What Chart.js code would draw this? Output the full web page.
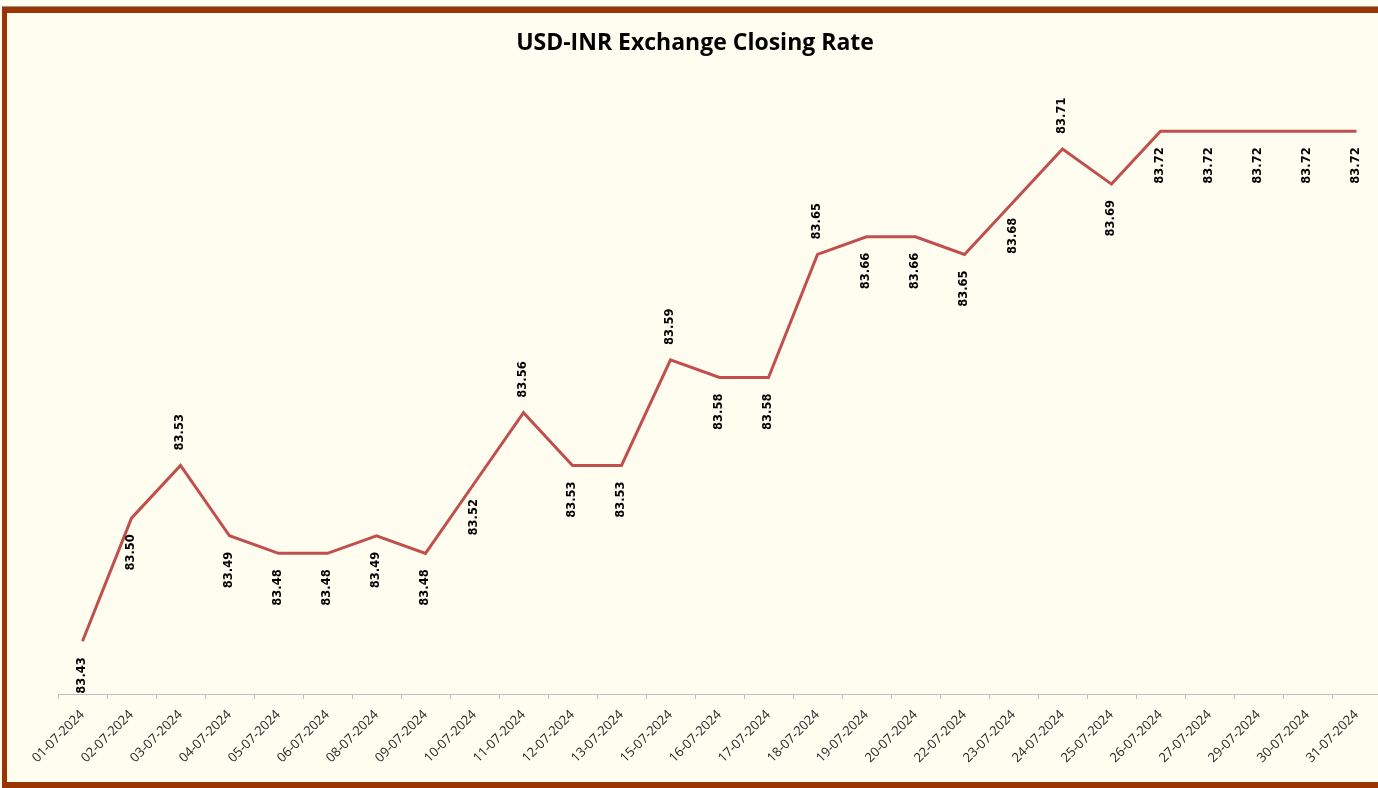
<!DOCTYPE html>
<html>
<head>
<meta charset="utf-8">
<script src="https://cdn.jsdelivr.net/npm/chart.js@4.4.1/dist/chart.umd.min.js"></script>
<style>
  html, body { margin: 0; padding: 0; background: #FFFCF0; overflow: hidden; width: 1378px; height: 788px; }
  #wrap { position: absolute; left: 0; top: 0; width: 1390px; height: 788px; }
  #topline { position: absolute; left: 2px; top: 6px; width: 1400px; height: 1px; background: #9a9a9a; }
  #frame { position: absolute; left: 2px; top: 7px; width: 1400px; height: 781px; box-sizing: border-box;
           border-top: 6px solid #9A3400; border-left: 5px solid #9A3400; border-bottom: 6px solid #9A3400; border-right: 0; pointer-events: none; }
</style>
</head>
<body>
<div id="wrap"><canvas id="c"></canvas></div>
<div id="topline"></div>
<div id="frame"></div>
<script>
const categories = ["01-07-2024","02-07-2024","03-07-2024","04-07-2024","05-07-2024","06-07-2024","08-07-2024","09-07-2024","10-07-2024","11-07-2024","12-07-2024","13-07-2024","15-07-2024","16-07-2024","17-07-2024","18-07-2024","19-07-2024","20-07-2024","22-07-2024","23-07-2024","24-07-2024","25-07-2024","26-07-2024","27-07-2024","29-07-2024","30-07-2024","31-07-2024"];
const closingRate = [83.43,83.50,83.53,83.49,83.48,83.48,83.49,83.48,83.52,83.56,83.53,83.53,83.59,83.58,83.58,83.65,83.66,83.66,83.65,83.68,83.71,83.69,83.72,83.72,83.72,83.72,83.72];
const titleText = "USD-INR Exchange Closing Rate";
const yMin = 83.40, yMax = 83.75;
</script>
<script>
// categories whose data labels sit above the line (others below)
const labelsAbove = new Set(["03-07-2024","11-07-2024","15-07-2024","18-07-2024","24-07-2024"]);

const dataLabelPlugin = {
  id: 'vertLabels',
  afterDatasetsDraw(chart) {
    const ctx = chart.ctx;
    const meta = chart.getDatasetMeta(0);
    ctx.save();
    ctx.font = 'bold 11.5px "DejaVu Sans"';
    ctx.fillStyle = '#000000';
    ctx.textBaseline = 'middle';
    meta.data.forEach((pt, i) => {
      const txt = closingRate[i].toFixed(2);
      const above = labelsAbove.has(categories[i]);
      ctx.save();
      ctx.translate(pt.x, above ? pt.y - 15 : pt.y + 16);
      ctx.rotate(-Math.PI / 2);
      ctx.textAlign = above ? 'left' : 'right';
      ctx.fillText(txt, 0, 0);
      ctx.restore();
    });
    ctx.restore();
  }
};

new Chart(document.getElementById('c'), {
  type: 'line',
  data: {
    labels: categories,
    datasets: [{
      data: closingRate,
      borderColor: '#C0504D',
      borderWidth: 3,
      pointRadius: 0,
      pointHoverRadius: 0,
      tension: 0,
      fill: false
    }]
  },
  options: {
    responsive: true,
    maintainAspectRatio: false,
    animation: false,
    events: [],
    layout: { padding: { left: 9, right: 9, top: 0, bottom: 0 } },
    plugins: {
      legend: { display: false },
      tooltip: { enabled: false },
      title: {
        display: true,
        text: titleText,
        color: '#000000',
        font: { family: '"Open Sans"', size: 23, weight: 'bold' },
        padding: { top: 30, bottom: 21 }
      }
    },
    scales: {
      x: {
        offset: true,
        afterFit(scale) { scale.height = 94; },
        border: { display: true, color: '#BFBFBF', width: 1 },
        grid: { display: true, offset: true, drawOnChartArea: false, drawTicks: true, tickLength: 5, color: '#BFBFBF' },
        ticks: {
          autoSkip: false,
          maxRotation: 45,
          minRotation: 45,
          padding: 8,
          color: '#262626',
          font: { family: '"Open Sans"', size: 13 }
        }
      },
      y: {
        display: true,
        min: yMin,
        max: yMax,
        afterFit(scale) { scale.width = 49; },
        border: { display: false },
        grid: { display: false, drawTicks: false },
        ticks: { display: false }
      }
    }
  },
  plugins: [dataLabelPlugin]
});
</script>
</body>
</html>
